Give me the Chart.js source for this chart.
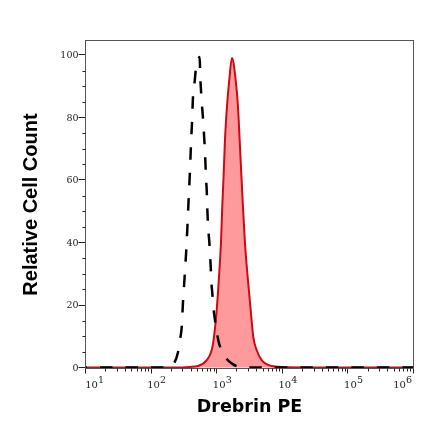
<!DOCTYPE html>
<html>
<head>
<meta charset="utf-8">
<style>html,body{margin:0;padding:0;background:#fff}#w{width:440px;height:441px;position:relative}</style>
<script src="https://cdn.jsdelivr.net/npm/chart.js@4/dist/chart.umd.min.js"></script>
</head>
<body>
<div id="w"><canvas id="c" width="440" height="441"></canvas></div>
<script>
const xTickValues = [10, 100, 1000, 10000, 100000, 1000000];
const xTickBase = ['10', '10', '10', '10', '10', '10'];
const xTickExponents = ['1', '2', '3', '4', '5', '6'];
const yTickValues = [0, 20, 40, 60, 80, 100];

const stainedX = [10, 100, 250, 392, 519, 705, 840, 910, 1000, 1084, 1161, 1216, 1279, 1337, 1435, 1539, 1710, 1968, 2109, 2239, 2368, 2512, 2698, 2965, 3296, 3606, 4064, 4842, 6871, 9862, 100000, 1000000];
const stainedY = [0, 0, 0, 0.2, 0.5, 2.4, 5.6, 9.9, 18.4, 29, 39.8, 51.5, 62.2, 72.8, 83.5, 91, 99, 91, 83.5, 72.8, 62.2, 51.5, 39.8, 29, 18.4, 9.9, 5.6, 2.4, 0.5, 0.2, 0, 0];

const controlX = [10, 100, 173, 214, 258, 276, 293, 307, 326, 347, 370, 390, 404, 421, 436, 459, 480, 510, 550, 562, 575, 590, 612, 630, 647, 664, 675, 688, 705, 720, 745, 771, 791, 811, 828, 857, 887, 933, 1000, 1084, 1337, 1754, 2698, 10000, 100000, 1000000];
const controlY = [0, 0, 0, 0.8, 5, 8.8, 13, 21.4, 29.6, 39.2, 52, 62.3, 70.6, 78.7, 86.9, 91, 95.2, 97.8, 99.3, 93, 89, 85, 81, 77, 73, 68.7, 64.8, 60.4, 56.5, 50.4, 44, 40.3, 36, 32.2, 27.5, 23.8, 19.5, 15.8, 11.5, 7.8, 3.5, 1.1, 0, 0, 0, 0];

const toPoints = (xs, ys) => xs.map((x, i) => ({ x, y: ys[i] }));

const xLabelShift = [6, 2.5, 2.5, 2.5, 2.5, -14];
const frameColor = '#555';
const tickColor = '#222';
const tickFamily = '"DejaVu Serif"';

const framePlugin = {
  id: 'frame',
  afterUpdate(chart) {
    chart.scales.x.getLabelItems().forEach((item, i) => {
      item.options.translation[0] += xLabelShift[i];
    });
    chart.scales.y.getLabelItems().forEach(item => {
      item.options.translation[1] += 1;
    });
  },
  afterDraw(chart) {
    const { ctx, chartArea: a, scales: { x, y } } = chart;
    ctx.save();
    ctx.strokeStyle = frameColor;
    ctx.lineWidth = 1;
    ctx.strokeRect(a.left, a.top, a.right - a.left, a.bottom - a.top);
    ctx.strokeStyle = tickColor;
    ctx.beginPath();
    for (let d = 10; d < 1000000; d *= 10) {
      for (let m = 2; m < 10; m++) {
        const px = Math.round(x.getPixelForValue(d * m)) + 0.5;
        ctx.moveTo(px, a.bottom);
        ctx.lineTo(px, a.bottom + 3);
      }
    }
    for (let v = 5; v < 105; v += 5) {
      if (v % 20 === 0) continue;
      const py = Math.round(y.getPixelForValue(v)) + 0.5;
      ctx.moveTo(a.left, py);
      ctx.lineTo(a.left - 3, py);
    }
    ctx.stroke();
    ctx.fillStyle = tickColor;
    ctx.font = '9.5px ' + tickFamily;
    ctx.textAlign = 'left';
    ctx.textBaseline = 'alphabetic';
    xTickValues.forEach((value, i) => {
      const px = x.getPixelForValue(value) + xLabelShift[i];
      ctx.fillText(xTickExponents[i], px + 6.5, a.bottom + 14);
    });
    ctx.restore();
  }
};

new Chart(document.getElementById('c'), {
  type: 'scatter',
  data: {
    datasets: [
      {
        label: 'Drebrin PE',
        data: toPoints(stainedX, stainedY),
        showLine: true,
        pointRadius: 0,
        borderColor: '#cc0a14',
        borderWidth: 2,
        backgroundColor: '#ff9a9c',
        fill: 'origin',
        cubicInterpolationMode: 'monotone',
        order: 2
      },
      {
        label: 'Isotype control',
        data: toPoints(controlX, controlY),
        showLine: true,
        pointRadius: 0,
        borderColor: '#000',
        borderWidth: 2.5,
        borderDash: [12.5, 13],
        borderDashOffset: 11,
        fill: false,
        cubicInterpolationMode: 'monotone',
        order: 1
      }
    ]
  },
  options: {
    responsive: false,
    animation: false,
    layout: { padding: { top: 40.5, right: 26.5, left: 0, bottom: 0 } },
    plugins: { legend: { display: false }, tooltip: { enabled: false } },
    scales: {
      x: {
        type: 'logarithmic',
        min: 10,
        max: 1000000,
        afterBuildTicks(s) { s.ticks = xTickValues.map(value => ({ value, major: true })); },
        afterFit(s) { s.height = 72.5; },
        grid: { drawOnChartArea: false, drawTicks: true, tickLength: 5, tickColor, tickWidth: 1 },
        border: { display: false },
        ticks: {
          autoSkip: false,
          maxRotation: 0,
          minRotation: 0,
          padding: 6,
          color: tickColor,
          font: { family: tickFamily, size: 10 },
          callback(value, i) { return xTickBase[i]; }
        },
        title: {
          display: true,
          text: 'Drebrin PE',
          color: '#000',
          font: { family: '"DejaVu Sans"', weight: 'bold', size: 17.5 },
          padding: { top: 0, bottom: 23 }
        }
      },
      y: {
        min: -0.3,
        max: 104.6,
        afterBuildTicks(s) { s.ticks = yTickValues.map(value => ({ value })); },
        afterFit(s) { s.width = 85.5; },
        grid: { drawOnChartArea: false, drawTicks: true, tickLength: 7, tickColor, tickWidth: 1 },
        border: { display: false },
        ticks: {
          padding: 0,
          color: tickColor,
          font: { family: tickFamily, size: 9.5 }
        },
        title: {
          display: true,
          text: 'Relative Cell Count',
          color: '#000',
          font: { family: '"Liberation Sans"', weight: 'bold', size: 20 },
          padding: { top: 19, bottom: 0 }
        }
      }
    }
  },
  plugins: [framePlugin]
});
</script>
</body>
</html>
